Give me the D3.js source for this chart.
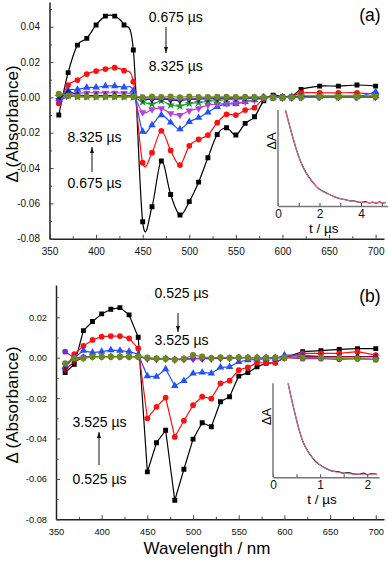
<!DOCTYPE html>
<html>
<head>
<meta charset="utf-8">
<script src="https://cdn.jsdelivr.net/npm/d3@7"></script>
<style>
body { margin: 0; background: #fff; }
svg { display: block; font-family: "Liberation Sans", Arial, sans-serif; }
</style>
</head>
<body>
<script>
// ---- data ----
const wavelengthsA = [360,370,380,390,400,410,420,430,440,450,460,470,480,490,500,510,520,530,540,550,560,570,580,590,600,610,620,640,660,680,700];
const wavelengthsB = [360,370,380,390,400,410,420,430,440,450,460,470,480,490,500,510,520,530,540,550,560,570,580,590,600,620,640,660,680,700];

// panel (a): 0.675 us ... 8.325 us
const blackA  = [-0.010,0.014,0.0296,0.0334,0.041,0.046,0.046,0.041,0.0268,-0.0704,-0.0619,-0.036,-0.055,-0.0666,-0.059,-0.048,-0.0342,-0.021,-0.0172,-0.0213,-0.0147,-0.011,-0.0019,0.0013,0.0004,0.0004,0.0045,0.0064,0.0064,0.007,0.0064];
const redA    = [-0.0034,0.007,0.0098,0.0132,0.0149,0.016,0.0168,0.0151,0.0089,-0.037,-0.0313,-0.0189,-0.030,-0.0383,-0.0274,-0.0238,-0.0213,-0.0143,-0.0096,-0.010,-0.0072,-0.0058,-0.0006,0,0,0.0005,0.0026,0.0026,0.0026,0.0026,0.002];
const blueA   = [-0.001,0.004,0.0045,0.0055,0.0057,0.0064,0.0064,0.0057,0.0038,-0.0194,-0.0157,-0.010,-0.0142,-0.018,-0.0138,-0.0115,-0.0085,-0.0053,-0.0038,-0.0036,-0.0025,-0.0015,0,0,0,0.0002,0.0004,0.0004,0.0004,0.0004,0.0032];
const magentaA= [-0.0015,0.0013,0.0023,0.0026,0.0026,0.0026,0.0026,0.0024,0.0013,-0.0085,-0.0068,-0.0062,-0.009,-0.010,-0.0075,-0.0062,-0.0043,-0.0038,-0.0034,-0.003,-0.0025,-0.0015,-0.0005,0,0,0,0,0.0002,0.0002,0.0002,0.0004];
const greenA  = [0.0005,0.001,0.0005,0.0005,0.0005,0.0005,0.0005,0.0005,0.0003,-0.0025,-0.0038,-0.0019,-0.0043,-0.0049,-0.0034,-0.003,-0.0022,-0.0018,-0.0012,-0.001,-0.0008,-0.0005,0,0,0,0.0003,0.0008,0.0008,0.0008,0.0008,0.0008];
const navyA   = [-0.001,0.003,0.0015,0.001,0.001,0.001,0.001,0.001,0.0008,-0.0008,-0.0012,-0.0008,-0.0015,-0.0018,-0.0012,-0.001,-0.0008,-0.0006,-0.0005,-0.0004,-0.0003,-0.0002,0,0,0,0,0.0003,0.0003,0.0003,0.0003,0.0003];
const violetA = [-0.0025,0.0005,0.0005,0.0003,0.0003,0.0003,0.0003,0.0003,0.0003,0,-0.0005,-0.0003,-0.0008,-0.001,-0.0006,-0.0005,-0.0004,-0.0003,-0.0003,-0.0002,-0.0002,0,0,0,0,0,0,0,0,0,0];
const oliveA  = [0.002,0.001,0.0005,0.0005,0.0005,0.0005,0.0005,0.0005,0.0005,0,0.0005,0.0002,0.0005,0,0.0005,0.0002,0.0002,0.0003,0.0003,0.0002,0.0003,0.0002,0,0,0,0,0,0.0003,0.0003,0.0003,0.0005];

// panel (b): 0.525 us ... 3.525 us
const blackB  = [-0.0073,-0.0033,0.0134,0.0179,0.0217,0.024,0.0248,0.0212,0.0101,-0.0565,-0.0421,-0.0359,-0.0706,-0.0552,-0.0403,-0.0322,-0.0342,-0.0218,-0.0193,-0.0091,-0.0074,-0.0045,-0.0028,-0.0025,0,0.003,0.0035,0.0041,0.0045,0.0045];
const redB    = [-0.0053,0.0018,0.0058,0.0088,0.0104,0.0107,0.0107,0.0096,0.0046,-0.030,-0.0243,-0.0197,-0.0392,-0.0312,-0.0235,-0.0193,-0.0202,-0.0127,-0.0114,-0.0061,-0.0048,-0.0025,-0.0025,-0.0025,0,0.0021,0.0021,0.0021,0.003,0.0013];
const blueB   = [-0.0045,0,0.0035,0.0025,0.003,0.0038,0.0035,0.003,0.0017,-0.0091,-0.0094,-0.0056,-0.0139,-0.0114,-0.0078,-0.0073,-0.0078,-0.0048,-0.0045,-0.002,-0.0012,-0.0008,-0.0006,-0.0004,0.0013,0.0013,0.0005,0.0005,0.0005,0.0005];
const darkRedB= [-0.006,-0.002,0,0.0005,0.0005,0.0005,0.0005,0.0005,0.0005,-0.0005,-0.0008,-0.0005,-0.001,-0.0008,-0.0005,-0.0005,-0.0005,-0.0003,-0.0003,0,0,0,0,0,0,0.0005,0.0005,0.0005,0.0005,0.0005];
const purpleB = [0.003,0,0.0003,0.0005,0.0005,0.0005,0.0005,0.0005,0.0005,-0.0003,-0.0005,-0.0003,-0.0008,-0.0005,-0.0003,-0.0003,-0.0003,0,0,0,0,0,0,0,0,-0.0005,-0.0005,-0.0008,-0.0005,-0.0008];
const oliveB  = [-0.0028,-0.0003,-0.0003,0.0005,0.0005,0.0005,0.0005,0.0005,0.0005,0,-0.0003,-0.0005,-0.001,-0.0005,0.0013,0.0005,-0.0002,0.0002,-0.0002,0.0002,0,0,0,0,0,0,0,-0.0002,-0.0005,-0.001];

// insets: decay traces (normalised dA) and fits
const traceTimeA = [0.36,0.68,1.0,1.32,1.65,2.0,2.2,2.45,2.7,2.94,3.2,3.42,3.7,3.98,4.2,4.4,4.55,4.75,4.9,5.05,5.2];
const traceA     = [1.0,0.74,0.514,0.358,0.253,0.174,0.15,0.122,0.098,0.08,0.068,0.056,0.05,0.038,0.045,0.032,0.04,0.03,0.042,0.03,0.038];
const fitTimeA   = [0.355,0.68,1.0,1.32,1.65,2.0,2.45,2.94,3.42,3.98,4.55,5.2];
const fitA       = [1.0,0.74,0.514,0.358,0.253,0.174,0.122,0.08,0.056,0.038,0.035,0.035];
const traceTimeB = [0.32,0.44,0.546,0.65,0.794,0.9,1.0,1.1,1.255,1.38,1.5,1.6,1.72,1.82,1.92,2.0,2.1,2.21];
const traceB     = [1.0,0.734,0.521,0.362,0.238,0.17,0.131,0.1,0.067,0.06,0.043,0.05,0.035,0.032,0.045,0.028,0.04,0.032];
const fitTimeB   = [0.32,0.44,0.546,0.65,0.794,1.0,1.255,1.5,1.82,2.21];
const fitB       = [1.0,0.734,0.521,0.362,0.238,0.131,0.067,0.043,0.032,0.032];

// tick labels
const xTicks = [350,400,450,500,550,600,650,700];
const xMinor = [375,425,475,525,575,625,675];
const yTicksA = [-0.08,-0.06,-0.04,-0.02,0,0.02,0.04];
const yMinorA = [-0.07,-0.05,-0.03,-0.01,0.01,0.03,0.05];
const yTicksB = [-0.08,-0.06,-0.04,-0.02,0,0.02];
const yMinorB = [-0.07,-0.05,-0.03,-0.01,0.01,0.03];
const insetTicksA = [0,2,4], insetMinorA = [1,3,5];
const insetTicksB = [0,1,2], insetMinorB = [0.5,1.5];

const svg = d3.select("body").append("svg").attr("width", 388).attr("height", 563);

const shapes = {
    square: [d3.symbolSquare, 0, 24],
    circle: [d3.symbolCircle, 0, 26],
    up: [d3.symbolTriangle, 0, 24],
    down: [d3.symbolTriangle, 180, 24],
    right: [d3.symbolTriangle, 90, 22],
    star: [d3.symbolStar, 0, 26],
    diamond: [d3.symbolDiamond, 0, 20],
    hex: [d3.symbolCircle, 0, 30]
};

function drawPanel(o) {
    const g = svg.append("g");
    const x = d3.scaleLinear().domain([350, 709]).range(o.xRange);
    const y = d3.scaleLinear().domain(o.yDomain).range(o.yRange);

    g.append("clipPath").attr("id", o.id).append("rect")
        .attr("x", o.xRange[0]).attr("y", o.yRange[1])
        .attr("width", o.xRange[1] - o.xRange[0]).attr("height", o.yRange[0] - o.yRange[1]);

    const plot = g.append("g").attr("clip-path", `url(#${o.id})`);
    o.series.forEach((s, k) => {
        const pts = s.values.map((v, i) => [o.wl[i], v]);
        const line = d3.line().x(d => x(d[0])).y(d => y(d[1])).curve(o.curve);
        plot.append("path").attr("d", line(pts))
            .attr("fill", "none").attr("stroke", s.color).attr("stroke-width", 1.2);
        const sh = shapes[s.shape];
        plot.selectAll(`path.m${k}`).data(pts).enter().append("path")
            .attr("class", `m${k}`)
            .attr("d", d3.symbol().type(sh[0]).size(sh[2]))
            .attr("transform", d => `translate(${x(d[0])},${y(d[1])}) rotate(${sh[1]})`)
            .attr("fill", s.color);
    });

    // axes, ticks pointing inward
    const xa = g.append("g").attr("transform", `translate(0,${o.yRange[0]})`)
        .call(d3.axisBottom(x).tickValues(xTicks).tickSize(-4).tickSizeOuter(0).tickPadding(o.xPad));
    g.append("g").attr("transform", `translate(0,${o.yRange[0]})`)
        .call(d3.axisBottom(x).tickValues(xMinor).tickSize(-2.5).tickFormat(""))
        .select(".domain").remove();
    const ya = g.append("g").attr("transform", `translate(${o.xRange[0]},0)`)
        .call(d3.axisLeft(y).tickValues(o.yTicks).tickSize(-4).tickSizeOuter(0).tickPadding(o.yPad)
            .tickFormat(v => v.toFixed(2)));
    g.append("g").attr("transform", `translate(${o.xRange[0]},0)`)
        .call(d3.axisLeft(y).tickValues(o.yMinor).tickSize(-2.5).tickFormat(""))
        .select(".domain").remove();
    [xa, ya].forEach(a => {
        a.select(".domain").attr("stroke", "#222").attr("stroke-width", 1.5);
        a.selectAll(".tick text").attr("font-family", "Liberation Sans, Arial, sans-serif")
            .attr("font-size", o.tickFont).attr("fill", "#111");
    });
    g.selectAll(".tick line").attr("stroke", "#222");

    g.append("text").attr("transform", `translate(${o.yTitle[0]},${o.yTitle[1]}) rotate(-90)`)
        .attr("text-anchor", "middle").attr("dominant-baseline", "central")
        .attr("font-size", 17).text("Δ (Absorbance)");
    g.append("text").attr("x", o.tag[0]).attr("y", o.tag[1])
        .attr("text-anchor", "middle").attr("font-size", 17.5).text(o.tagText);

    o.notes.forEach(n => annotate(g, n));
    drawInset(g, o.inset);
}

function annotate(g, n) {
    [[n.top, n.yTop], [n.bottom, n.yBottom]].forEach(([t, yy]) => {
        g.append("text").attr("x", n.x).attr("y", yy + 4.8)
            .attr("text-anchor", "middle").attr("font-size", 14).text(t);
    });
    g.append("line").attr("x1", n.ax).attr("x2", n.ax).attr("y1", n.tail).attr("y2", n.tip)
        .attr("stroke", "#111").attr("stroke-width", 1);
    const dir = n.tip > n.tail ? -1 : 1;
    g.append("path")
        .attr("d", `M${n.ax - 2},${n.tip + dir * 6}L${n.ax},${n.tip}L${n.ax + 2},${n.tip + dir * 6}Z`)
        .attr("fill", "#111");
}

function drawInset(g, o) {
    const x = d3.scaleLinear().domain(o.xDomain).range(o.xRange);
    const y = d3.scaleLinear().domain([0, 1]).range(o.yRange);
    const line = d3.line().x(d => x(d[0])).y(d => y(d[1])).curve(d3.curveMonotoneX);
    g.append("path").attr("d", line(o.traceT.map((t, i) => [t, o.trace[i]])))
        .attr("fill", "none").attr("stroke", "#2b2238").attr("stroke-width", 1.3);
    g.append("path").attr("d", line(o.fitT.map((t, i) => [t, o.fit[i]])))
        .attr("fill", "none").attr("stroke", "#e8709a").attr("stroke-width", 1);

    const xa = g.append("g").attr("transform", `translate(0,${o.yRange[0]})`)
        .call(d3.axisBottom(x).tickValues(o.ticks).tickSize(-3).tickSizeOuter(0).tickPadding(3)
            .tickFormat(d3.format("d")));
    g.append("g").attr("transform", `translate(0,${o.yRange[0]})`)
        .call(d3.axisBottom(x).tickValues(o.minor).tickSize(-3).tickFormat(""))
        .select(".domain").remove();
    xa.select(".domain").attr("stroke", "#777").attr("stroke-width", 1.5);
    xa.selectAll(".tick text").attr("font-family", "Liberation Sans, Arial, sans-serif")
        .attr("font-size", 12).attr("fill", "#111");
    g.selectAll(".tick line").attr("stroke", "#444");
    g.append("line").attr("x1", o.xRange[0]).attr("x2", o.xRange[0])
        .attr("y1", o.yRange[0]).attr("y2", o.yRange[1])
        .attr("stroke", "#777").attr("stroke-width", 1.5);

    g.append("text").attr("x", o.xLabel[0]).attr("y", o.xLabel[1])
        .attr("text-anchor", "middle").attr("font-size", 13.5).text("t / µs");
    g.append("text").attr("transform", `translate(${o.yLabel[0]},${o.yLabel[1]}) rotate(-90)`)
        .attr("text-anchor", "middle").attr("dominant-baseline", "central")
        .attr("font-size", 13).text("ΔA");
}

drawPanel({
    id: "clipA", wl: wavelengthsA, xRange: [49.5, 384], yRange: [238.7, 2], yDomain: [-0.08, 0.054],
    yTicks: yTicksA, yMinor: yMinorA, tickFont: 10, xPad: 9.5, yPad: 9.5,
    curve: d3.curveCatmullRom.alpha(0),
    yTitle: [12.5, 124], tag: [370, 21], tagText: "(a)",
    series: [
        {values: blackA, color: "#000000", shape: "square"},
        {values: redA, color: "#ff1010", shape: "circle"},
        {values: blueA, color: "#2050ff", shape: "up"},
        {values: magentaA, color: "#b83ee0", shape: "down"},
        {values: greenA, color: "#12a012", shape: "star"},
        {values: navyA, color: "#1a1a90", shape: "diamond"},
        {values: violetA, color: "#7a2ad0", shape: "right"},
        {values: oliveA, color: "#6b8a1e", shape: "hex"}
    ],
    notes: [
        {x: 175.8, top: "0.675 µs", bottom: "8.325 µs", yTop: 16.7, yBottom: 66, ax: 166, tail: 27, tip: 53},
        {x: 94.5, top: "8.325 µs", bottom: "0.675 µs", yTop: 137, yBottom: 183, ax: 92, tail: 172, tip: 147}
    ],
    inset: {xDomain: [0, 5.3], xRange: [278, 388], yRange: [206, 110],
        traceT: traceTimeA, trace: traceA, fitT: fitTimeA, fit: fitA,
        ticks: insetTicksA, minor: insetMinorA, xLabel: [323.7, 232.5], yLabel: [271.5, 141]}
});

drawPanel({
    id: "clipB", wl: wavelengthsB, xRange: [56, 384], yRange: [519.3, 285], yDomain: [-0.08, 0.036],
    yTicks: yTicksB, yMinor: yMinorB, tickFont: 9.3, xPad: 9, yPad: 9,
    curve: d3.curveLinear,
    yTitle: [12.5, 405], tag: [370, 302], tagText: "(b)",
    series: [
        {values: blackB, color: "#000000", shape: "square"},
        {values: redB, color: "#ff1010", shape: "circle"},
        {values: blueB, color: "#2050ff", shape: "up"},
        {values: darkRedB, color: "#8a0a2a", shape: "diamond"},
        {values: purpleB, color: "#7a2ad0", shape: "circle"},
        {values: oliveB, color: "#6b8a1e", shape: "hex"}
    ],
    notes: [
        {x: 181.5, top: "0.525 µs", bottom: "3.525 µs", yTop: 293.3, yBottom: 340, ax: 178, tail: 313, tip: 332},
        {x: 99.5, top: "3.525 µs", bottom: "0.525 µs", yTop: 422.3, yBottom: 479.3, ax: 99, tail: 465, tip: 432}
    ],
    inset: {xDomain: [0, 2.25], xRange: [273, 379], yRange: [477.3, 383.3],
        traceT: traceTimeB, trace: traceB, fitT: fitTimeB, fit: fitB,
        ticks: insetTicksB, minor: insetMinorB, xLabel: [322, 504], yLabel: [266, 416.7]}
});

svg.append("text").attr("x", 207).attr("y", 554).attr("text-anchor", "middle")
    .attr("font-size", 17).text("Wavelength / nm");
</script>
</body>
</html>
